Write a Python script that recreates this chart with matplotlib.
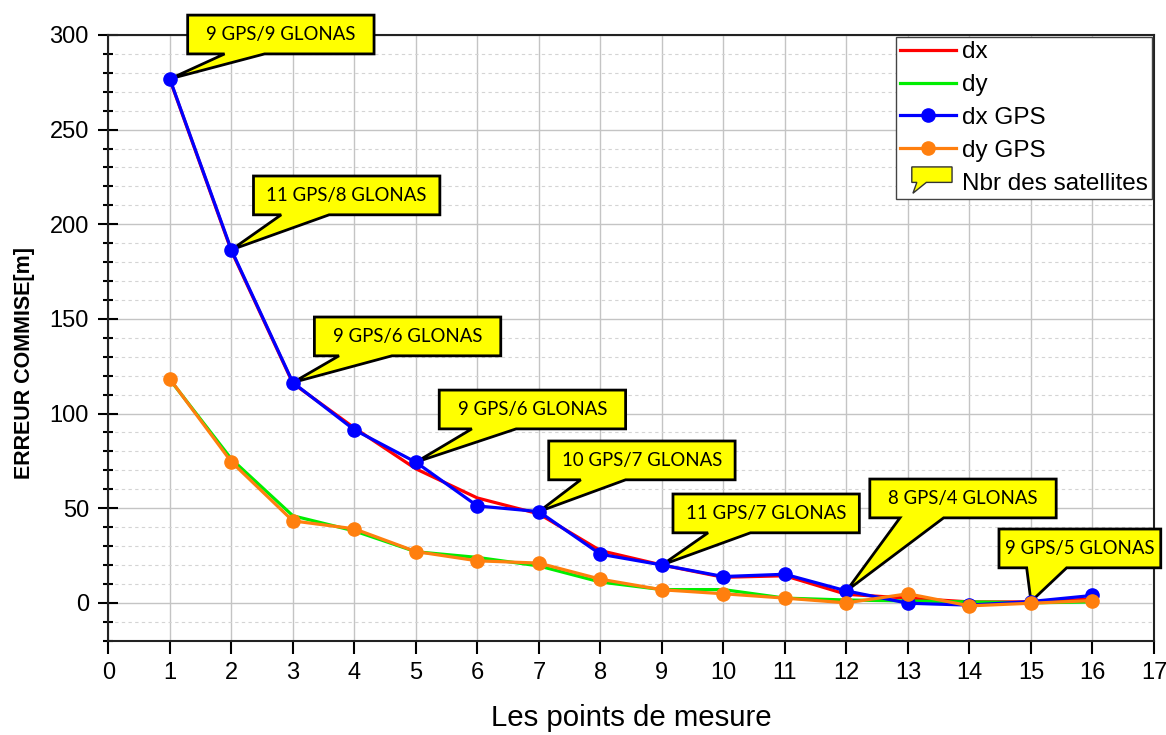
import matplotlib
matplotlib.use("Agg")
import matplotlib.pyplot as plt
from matplotlib.patches import Polygon, Patch
from matplotlib.lines import Line2D
from matplotlib.legend_handler import HandlerPatch
from matplotlib.ticker import MultipleLocator

plt.rcParams['font.family'] = ['Liberation Sans', 'DejaVu Sans']

# Measurement points and errors (m)
points = list(range(1, 17))
dx = [276.5, 186, 116, 92.4, 70.8, 55.4, 47, 27.6, 20, 13.5, 14.3, 4.5, 2.5, 0.5, 0.5, 2]
dy = [118, 76, 46, 38, 27, 24, 19.5, 11, 7, 7, 2.5, 1.5, 1, 0.5, 0, 0.5]
dx_gps = [276.8, 186.5, 116.4, 91.4, 74.3, 51.2, 48.2, 25.7, 20, 13.9, 15.1, 6.3, -0.2, -1.2, 0.7, 3.9]
dy_gps = [118.3, 74.5, 43.3, 39.1, 27.1, 22.2, 21, 12.5, 6.9, 4.8, 2.5, 0, 4.8, -1.6, -0.2, 1.2]

# Satellite counts shown in the callouts, keyed by measurement point
sat_points = [1, 2, 3, 5, 7, 9, 12, 15]
sat_labels = ["9 GPS/9 GLONAS", "11 GPS/8 GLONAS", "9 GPS/6 GLONAS", "9 GPS/6 GLONAS",
              "10 GPS/7 GLONAS", "11 GPS/7 GLONAS", "8 GPS/4 GLONAS", "9 GPS/5 GLONAS"]

# Callout box placement: (left, bottom, width, tail start, tail end) in data units
callout_boxes = [
    (1.29, 290.0, 3.03, 0.60, 1.25),
    (2.36, 205.0, 3.03, 0.45, 1.23),
    (3.35, 130.5, 3.03, 0.40, 1.26),
    (5.38, 91.9, 3.03, 0.53, 1.25),
    (7.16, 65.0, 3.03, 0.52, 1.25),
    (9.18, 37.0, 3.03, 0.57, 1.26),
    (12.38, 44.9, 3.03, 0.49, 1.20),
    (14.48, 18.5, 2.63, 0.45, 1.10),
]
BOX_H = 20.5

fig = plt.figure(figsize=(11.66, 7.35), dpi=100)
ax = fig.add_axes([0.0929, 0.1283, 0.8968, 0.8241])

ax.set_xlim(0, 17)
ax.set_ylim(-20, 300)
ax.xaxis.set_major_locator(MultipleLocator(1))
ax.yaxis.set_major_locator(MultipleLocator(50))
ax.yaxis.set_minor_locator(MultipleLocator(10))

ax.grid(which='major', color='#c4c4c4', linewidth=1.0, linestyle='-', zorder=0)
ax.grid(which='minor', axis='y', color='#d4d4d4', linewidth=0.8, linestyle=(0, (3, 3)), zorder=0)
ax.set_axisbelow(True)

for s in ax.spines.values():
    s.set_linewidth(1.5)
    s.set_color('#222222')

ax.tick_params(axis='x', which='major', direction='out', length=9, width=1.5, labelsize=17, pad=6)
ax.tick_params(axis='y', which='major', direction='inout', length=14, width=1.5, labelsize=17, pad=7)
ax.tick_params(axis='y', which='minor', direction='inout', length=7, width=1.5)

lw = 2.3
ax.plot(points, dx, color='#ff0000', lw=lw, zorder=5, label='dx')
ax.plot(points, dy, color='#00ee00', lw=lw, zorder=5, label='dy')
ax.plot(points, dx_gps, color='#0000ff', lw=lw, marker='o', ms=9.5, zorder=6, label='dx GPS')
ax.plot(points, dy_gps, color='#ff7f0e', lw=lw, marker='o', ms=9.5, zorder=7, label='dy GPS')

# Speech-bubble callouts pointing at the dx GPS points
for p, text, (left, bottom, w, t0, t1) in zip(sat_points, sat_labels, callout_boxes):
    tip_x = p
    tip_y = dx_gps[points.index(p)]
    top = bottom + BOX_H
    verts = [(left, bottom), (left + t0, bottom), (tip_x, tip_y), (left + t1, bottom),
             (left + w, bottom), (left + w, top), (left, top)]
    poly = Polygon(verts, closed=True, facecolor='#ffff00', edgecolor='black',
                   linewidth=2.0, joinstyle='miter', zorder=4, clip_on=False)
    ax.add_patch(poly)
    ax.text(left + w / 2, bottom + BOX_H / 2, text, ha='center', va='center',
            fontsize=13.4, family=['Lato', 'DejaVu Sans'], zorder=4.5, clip_on=False)


def callout_icon(legend, orig_handle, xdescent, ydescent, width, height, fontsize):
    w, h = width, height
    verts = [(0.21 * w, 0.44 * h), (0.30 * w, 0.44 * h), (0.23 * w, -0.2 * h),
             (0.47 * w, 0.44 * h), (0.93 * w, 0.44 * h), (0.93 * w, 1.35 * h),
             (0.21 * w, 1.35 * h)]
    return Polygon([(x - xdescent, y - ydescent) for x, y in verts], closed=True)


handles = [
    Line2D([], [], color='#ff0000', lw=lw),
    Line2D([], [], color='#00ee00', lw=lw),
    Line2D([], [], color='#0000ff', lw=lw, marker='o', ms=9.5),
    Line2D([], [], color='#ff7f0e', lw=lw, marker='o', ms=9.5),
    Patch(facecolor='#ffff00', edgecolor='#333333', linewidth=1.0),
]
labels = ['dx', 'dy', 'dx GPS', 'dy GPS', 'Nbr des satellites']
leg = ax.legend(handles, labels, loc='upper right', fontsize=17.5, frameon=True,
                fancybox=False, framealpha=1, edgecolor='#444444', borderaxespad=0.1,
                borderpad=0.15, handlelength=2.3, handletextpad=0.25, labelspacing=0.45,
                handler_map={Patch: HandlerPatch(patch_func=callout_icon)})
leg.get_frame().set_linewidth(1.0)
leg.set_zorder(10)

ax.set_xlabel('Les points de mesure', fontsize=21.2, labelpad=15)
ax.set_ylabel('ERREUR COMMISE[m]', fontsize=15.5, fontweight='bold')
ax.yaxis.set_label_coords(-0.070, 0.458)

fig.savefig('out.png', dpi=100)
